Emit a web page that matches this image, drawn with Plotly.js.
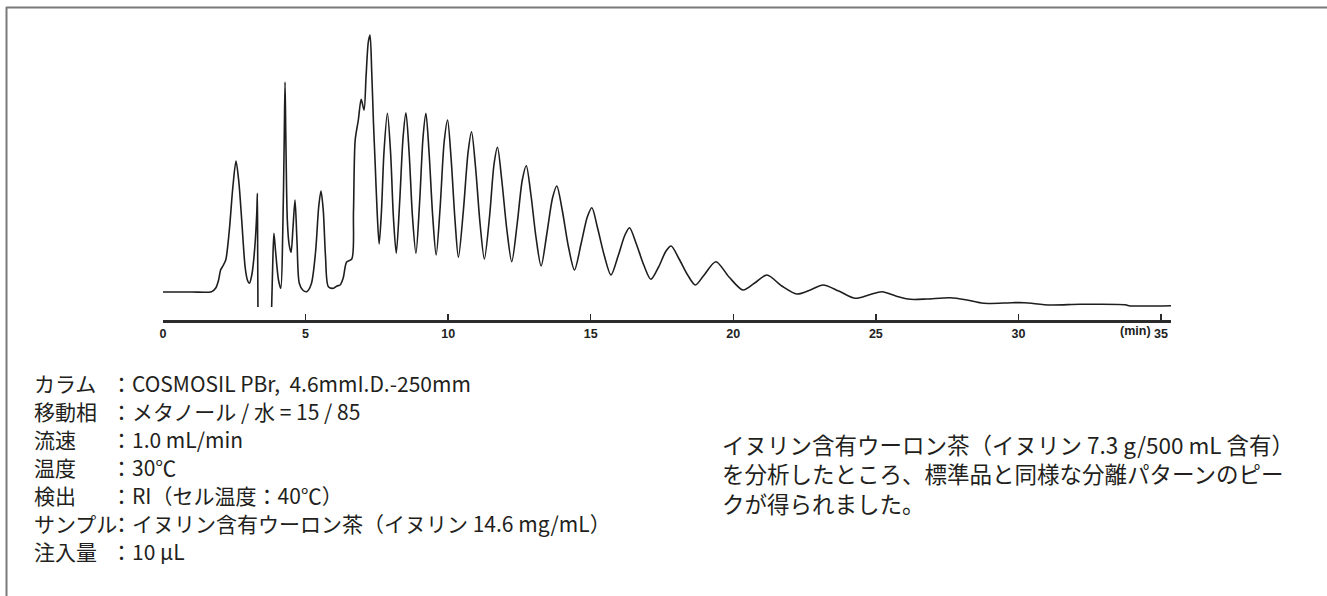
<!DOCTYPE html>
<html>
<head>
<meta charset="utf-8">
<script src="https://cdn.plot.ly/plotly-3.0.1.min.js"></script>
<style>
  html, body { margin: 0; padding: 0; background: #fff; }
  #chart { width: 1327px; height: 596px; }
</style>
</head>
<body>
<div id="chart"></div>
<script>
// Retention time (min) and detector signal (arbitrary units)
var timeMin = [
  0.0, 1.0, 1.7, 1.85, 1.95, 2.02, 2.1, 2.2, 2.32, 2.45, 2.56, 2.66, 2.76, 2.88, 2.96, 3.03,
  3.12, 3.22, 3.29, 3.31, 3.32, 3.33, null,
  3.81, 3.85, 3.89, 3.95, 4.05, 4.13, 4.2, 4.25, 4.28, 4.31, 4.36, 4.42, 4.49, 4.56, 4.63,
  4.7, 4.78, 4.9, 5.04, 5.2, 5.35, 5.46, 5.54, 5.62, 5.7, 5.8, 5.98, 6.1, 6.21, 6.32, 6.44,
  6.62, 6.68, 6.74, 6.85, 6.95, 7.05, 7.12, 7.2, 7.26, 7.32, 7.38, 7.44, 7.51, 7.58,
  7.66, 7.75, 7.87, 7.98, 8.08, 8.18,
  8.3, 8.42, 8.52, 8.63, 8.75, 8.87,
  9.0, 9.12, 9.22, 9.33, 9.46, 9.58,
  9.72, 9.86, 9.98, 10.1, 10.24, 10.36,
  10.53, 10.7, 10.82, 10.96, 11.12, 11.27,
  11.45, 11.61, 11.73, 11.88, 12.06, 12.23,
  12.42, 12.6, 12.74, 12.9, 13.08, 13.26,
  13.46, 13.66, 13.81, 14.0, 14.22, 14.43,
  14.66, 14.88, 15.04, 15.24, 15.48, 15.71,
  15.96, 16.2, 16.36, 16.6, 16.86, 17.11,
  17.38, 17.64, 17.82, 18.1, 18.4, 18.67,
  18.95, 19.39, 19.85, 20.34,
  20.75, 21.18, 21.7, 22.23,
  22.7, 23.15, 23.7, 24.28,
  24.75, 25.22, 25.7, 26.21, 26.79, 27.61, 28.2, 28.78, 29.78, 30.2, 31.12, 32.17, 33.75, 33.87, 35.35
];
var signal = [
  0, 0, 0.3, 4, 12, 22, 26, 32, 60, 105, 131, 110, 72, 25, 12, 8.7,
  18, 45, 80, 98.7, 40, -15, null,
  -15, 30, 58.7, 40, 12, 3.7, 60, 150, 210, 150, 72, 48, 39.7, 65, 92,
  50, 8.7, 2, 0.3, 8, 40, 85, 101, 82, 35, 5.3, 3.7, 6, 7, 14, 30,
  33, 80, 152, 172, 192.7, 182, 215, 250, 257, 220, 170, 128.7, 80, 48,
  80, 140, 178.7, 140, 75, 38.7,
  90, 155, 179.3, 140, 75, 38.7,
  90, 155, 178.7, 140, 75, 37,
  85, 150, 172, 135, 72, 34.7,
  80, 140, 160.3, 125, 68, 33,
  75, 128, 144.7, 112, 62, 30.3,
  68, 112, 126.3, 98, 55, 26,
  58, 94, 106, 82, 45, 22,
  48, 75, 84.3, 64, 36, 17,
  36, 57, 64.3, 48, 27, 12.7,
  25, 41, 46, 33, 17, 7,
  16, 30.3, 15, 2,
  9, 17, 6, -2,
  2, 7, 1, -6.3,
  -3, 0.3, -4, -7.3, -7, -5.7, -8, -11.3, -10.7, -10.7, -13, -12.3, -12.7, -13.7, -13.7
];
var tickVals = [0, 5, 10, 15, 20, 25, 30, 35];
var tickLabels = ['0', '5', '10', '15', '20', '25', '30', '35'];
var unitLabel = '(min)';

var condLabels = ['カラム', '移動相', '流速', '温度', '検出', 'サンプル', '注入量'];
var condValues = [
  '：COSMOSIL PBr,  4.6mmI.D.-250mm',
  '：メタノール / 水 = 15 / 85',
  '：1.0 mL/min',
  '：30℃',
  '：RI（セル温度：40℃）',
  '：イヌリン含有ウーロン茶（イヌリン 14.6 mg/mL）',
  '：10 μL'
];
var noteLines = [
  'イヌリン含有ウーロン茶（イヌリン 7.3 g/500 mL 含有）',
  'を分析したところ、標準品と同様な分離パターンのピー',
  'クが得られました。'
];

var W = 1327, H = 596, ML = 163, MR = 156, MT = 20, MB = 276;
var PW = W - ML - MR, PH = H - MT - MB;
function px(x) { return (x - ML) / PW; }
function py(y) { return (H - MB - y) / PH; }

var jp = '"Noto Sans CJK JP", "Noto Sans", sans-serif';
var txtColor = '#231f20';
var annotations = [];
for (var i = 0; i < condLabels.length; i++) {
  var yy = 383 + i * 28;
  annotations.push({xref: 'paper', yref: 'paper', x: px(32), y: py(yy), xanchor: 'left', yanchor: 'middle',
    text: condLabels[i], showarrow: false, font: {family: jp, size: 21, color: txtColor}});
  annotations.push({xref: 'paper', yref: 'paper', x: px(109), y: py(yy), xanchor: 'left', yanchor: 'middle',
    text: condValues[i], showarrow: false, font: {family: jp, size: 21, color: txtColor}});
}
annotations.push({xref: 'paper', yref: 'paper', x: px(720), y: py(474), xanchor: 'left', yanchor: 'middle',
  align: 'left', text: noteLines.join('<br>'), showarrow: false,
  font: {family: jp, size: 22.5, color: txtColor}});
annotations.push({xref: 'x', yref: 'paper', x: 35, y: py(331), xanchor: 'right', yanchor: 'middle', xshift: -8,
  text: '<b>' + unitLabel + '</b>', showarrow: false,
  font: {family: '"Liberation Sans Narrow", "Liberation Sans", Arial, sans-serif', size: 12.5, color: '#222'}});

var trace = {
  x: timeMin, y: signal, type: 'scatter', mode: 'lines', connectgaps: false,
  line: {color: '#1e1e1e', width: 1.6, shape: 'spline', smoothing: 0.8},
  hoverinfo: 'skip'
};

var layout = {
  width: W, height: H,
  margin: {l: ML, r: MR, t: MT, b: MB, pad: 0},
  paper_bgcolor: '#ffffff', plot_bgcolor: '#ffffff',
  showlegend: false,
  xaxis: {
    range: [0, 35.35], showgrid: false, zeroline: false,
    showline: true, linecolor: '#2b2b2b', linewidth: 2.5,
    ticks: 'inside', ticklen: 6, tickwidth: 1.5, tickcolor: '#2b2b2b',
    tickmode: 'array', tickvals: tickVals, ticktext: tickLabels.map(function (s) { return '<b>' + s + '</b>'; }),
    tickfont: {family: '"Liberation Sans Narrow", "Liberation Sans", Arial, sans-serif', size: 12.5, color: '#222'},
    fixedrange: true
  },
  yaxis: {range: [-28, 272], visible: false, fixedrange: true},
  shapes: [
    {type: 'line', xref: 'paper', yref: 'paper', x0: px(6), x1: px(1327), y0: py(7.5), y1: py(7.5),
      line: {color: '#7a7a7a', width: 2}},
    {type: 'line', xref: 'paper', yref: 'paper', x0: px(6.5), x1: px(6.5), y0: py(7), y1: py(596),
      line: {color: '#7a7a7a', width: 2}}
  ],
  annotations: annotations
};

Plotly.newPlot('chart', [trace], layout, {staticPlot: true, displayModeBar: false});
</script>
</body>
</html>
